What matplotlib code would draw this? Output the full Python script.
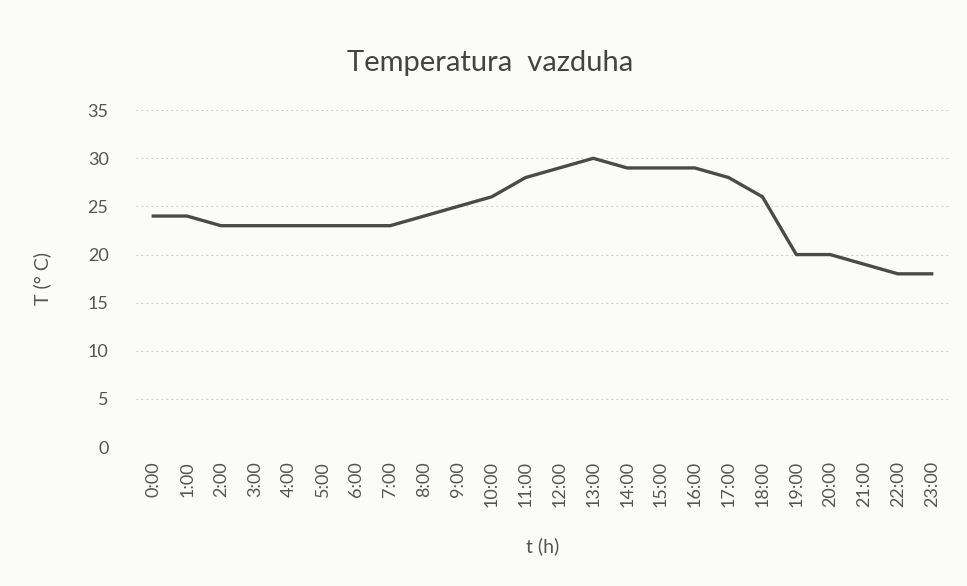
import numpy as np
import matplotlib
matplotlib.use("Agg")
import matplotlib.pyplot as plt

# hourly air temperature
hours = [f"{h}:00" for h in range(24)]
temps = [24, 24, 23, 23, 23, 23, 23, 23, 24, 25, 26, 28,
         29, 30, 29, 29, 29, 28, 26, 20, 20, 19, 18, 18]
yticks = [0, 5, 10, 15, 20, 25, 30, 35]

plt.rcParams["font.family"] = ["Lato", "DejaVu Sans"]
BG = "#fbfcfa"
TXT = "#555555"

fig = plt.figure(figsize=(9.67, 5.86), dpi=100, facecolor=BG)
ax = fig.add_axes([0.141, 0.237, 0.84, 0.575], facecolor=BG)

x = np.arange(len(hours))
ax.plot(x, temps, color="#4a4a4a", lw=2.4, solid_joinstyle="round")

ax.set_xlim(-0.5, len(hours) - 0.5)
ax.set_ylim(0, 35)
ax.set_yticks(yticks)
ax.set_xticks(x)
ax.set_xticklabels(hours, rotation=90)
ax.grid(axis="y", color="#c8c8c8", lw=0.8, ls=(0, (1.5, 3)))
ax.set_axisbelow(True)
for s in ax.spines.values():
    s.set_visible(False)
ax.tick_params(axis="y", length=0, labelsize=13, colors=TXT, pad=20)
ax.tick_params(axis="x", length=0, labelsize=13, colors=TXT, pad=10)

ax.set_xlabel("t (h)", fontsize=14, color=TXT, labelpad=22)
ax.set_ylabel("T (° C)", fontsize=14, color=TXT, labelpad=26)
fig.text(0.507, 0.893, "Temperatura  vazduha", ha="center", va="center",
         fontsize=21, color="#444444")

fig.savefig("out.png", dpi=100, facecolor=BG)
